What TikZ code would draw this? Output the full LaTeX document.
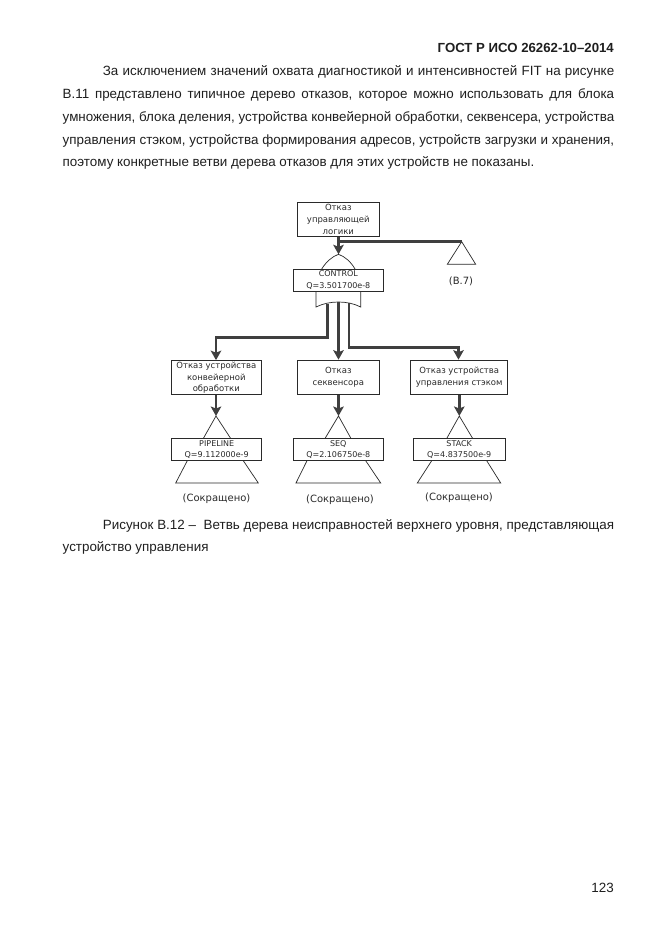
\documentclass[tikz,border=0pt]{standalone}
\usepackage{fontspec}
\setmainfont{Liberation Sans}
\newfontfamily\diagfont{DejaVu Sans}
\usetikzlibrary{arrows.meta}
\definecolor{lineink}{HTML}{2A2A2A}
\definecolor{flowink}{HTML}{3F3F3F}
\tikzset{
  x=1pt,y=-1pt,
  pagetext/.style={inner sep=0pt,font=\fontsize{13.4}{15}\selectfont,text=black!88},
  bodyline/.style={pagetext,anchor=base west},
  evtbox/.style={draw=lineink,line width=0.8pt,fill=white,inner sep=0pt,align=center,font=\diagfont\fontsize{8.5}{11.8}\selectfont,text=lineink},
  gatebox/.style={evtbox,font=\diagfont\fontsize{8}{11.6}\selectfont},
  capt/.style={inner sep=0pt,font=\diagfont\fontsize{10}{12}\selectfont,text=lineink},
  thin outline/.style={draw=lineink,line width=0.7pt},
  flow/.style={draw=flowink,line width=2.6pt},
  flowarrow/.style={flow,-{Stealth[length=9.5pt,width=10.5pt,inset=2pt]}},
}
\begin{document}
\begin{tikzpicture}
\useasboundingbox (0,0) rectangle (661,935);
\fill[white] (0,0) rectangle (661,935);
% page text
\node[pagetext,anchor=base east,font=\bfseries\fontsize{13.2}{15}\selectfont] (title) at (614,52) {ГОСТ Р ИСО 26262-10–2014};
\node[bodyline] (p1) at (102.7,75) {\makebox[511.3pt][s]{За исключением значений охвата диагностикой и интенсивностей FIT на рисунке}};
\node[bodyline] (p2) at (62.5,98.3) {\makebox[551.5pt][s]{В.11 представлено типичное дерево отказов, которое можно использовать для блока}};
\node[bodyline] (p3) at (62.5,121.7) {\makebox[551.5pt][s]{умножения, блока деления, устройства конвейерной обработки, секвенсера, устройства}};
\node[bodyline] (p4) at (62.5,144) {\makebox[551.5pt][s]{управления стэком, устройства формирования адресов, устройств загрузки и хранения,}};
\node[bodyline] (p5) at (62.5,166.7) {поэтому конкретные ветви дерева отказов для этих устройств не показаны.};
\node[bodyline] (c1) at (102.7,529) {\makebox[511.3pt][s]{Рисунок В.12 – \ Ветвь дерева неисправностей верхнего уровня, представляющая}};
\node[bodyline] (c2) at (62.5,551.7) {устройство управления};
\node[pagetext,anchor=base east] (pageno) at (614,892) {123};

% gate outlines
\coordinate (gcApex) at (338.5,254.3);
\coordinate (gpApex) at (216,416);
\coordinate (gsApex) at (338.5,416);
\coordinate (gtApex) at (459.3,416);
\coordinate (undevApex) at (461.7,241.7);
\draw[thin outline] (321.7,269) .. controls (326,262) and (332,256.5) .. (gcApex) .. controls (345,256.5) and (351,262) .. (355,269);
\draw[thin outline] (316,291) -- (316,307) .. controls (323,303.5) and (331,302) .. (338.5,302) .. controls (346,302) and (354,303.5) .. (360.7,307) -- (360.7,291);
\draw[thin outline] (undevApex) -- (475.7,264.3) -- (447.3,264.3) -- cycle;
\draw[thin outline] (203.3,438.5) -- (gpApex) -- (230.7,438.5);
\draw[thin outline] (325,438.5) -- (gsApex) -- (351,438.5);
\draw[thin outline] (446.7,438.5) -- (gtApex) -- (472.7,438.5);
\draw[thin outline] (187.3,460.7) -- (175.7,483) -- (258.3,483) -- (243.3,460.7);
\draw[thin outline] (307,460.7) -- (296,483) -- (380.7,483) -- (365.7,460.7);
\draw[thin outline] (431.7,460.7) -- (417.3,483) -- (500.7,483) -- (486.7,460.7);

% boxes
\node[evtbox,minimum width=82pt,minimum height=34pt] (top) at (338.3,219.3) {Отказ\\управляющей\\логики};
\node[gatebox,minimum width=90pt,minimum height=22.7pt] (control) at (338.3,280.3) {CONTROL\\Q=3.501700e-8};
\node[evtbox,minimum width=89.3pt,minimum height=34.3pt] (epipe) at (216.3,377.7) {Отказ устройства\\конвейерной\\обработки};
\node[evtbox,minimum width=82pt,minimum height=34.3pt] (eseq) at (338.3,377.2) {Отказ\\секвенсора};
\node[evtbox,minimum width=97pt,minimum height=34.3pt] (estack) at (459.2,377.2) {Отказ устройства\\управления стэком};
\node[gatebox,minimum width=90pt,minimum height=22.4pt] (pipeline) at (216.7,449.5) {PIPELINE\\Q=9.112000e-9};
\node[gatebox,minimum width=90pt,minimum height=22.4pt] (seq) at (338.3,449.5) {SEQ\\Q=2.106750e-8};
\node[gatebox,minimum width=91.7pt,minimum height=22.4pt] (stack) at (459.2,449.5) {STACK\\Q=4.837500e-9};

% captions
\node[capt] (b7) at (461,281) {(В.7)};
\node[capt] (cutp) at (216.5,498.7) {(Сокращено)};
\node[capt] (cuts) at (340,500) {(Сокращено)};
\node[capt] (cutt) at (459,497.7) {(Сокращено)};

% connectors
\coordinate (gcOutL) at (327.3,303.5);
\coordinate (gcOutM) at (338.5,302);
\coordinate (gcOutR) at (349,302.5);
\coordinate (pipeBend) at (216,337.3);
\coordinate (stackBend) at (458.5,347.7);
\coordinate (takeoff) at (338.5,241.7);
\draw[flowarrow] (top.south -| gcApex) -- (gcApex);
\draw[flow] (takeoff) -- (undevApex);
\draw[flowarrow] (gcOutL) |- (pipeBend) -- (epipe.north -| pipeBend);
\draw[flowarrow] (gcOutM) -- (eseq.north -| gcOutM);
\draw[flowarrow] (gcOutR) |- (stackBend) -- (estack.north -| stackBend);
\draw[flowarrow] (epipe.south -| gpApex) -- (gpApex);
\draw[flowarrow] (eseq.south -| gsApex) -- (gsApex);
\draw[flowarrow] (estack.south -| gtApex) -- (gtApex);
\end{tikzpicture}
\end{document}
